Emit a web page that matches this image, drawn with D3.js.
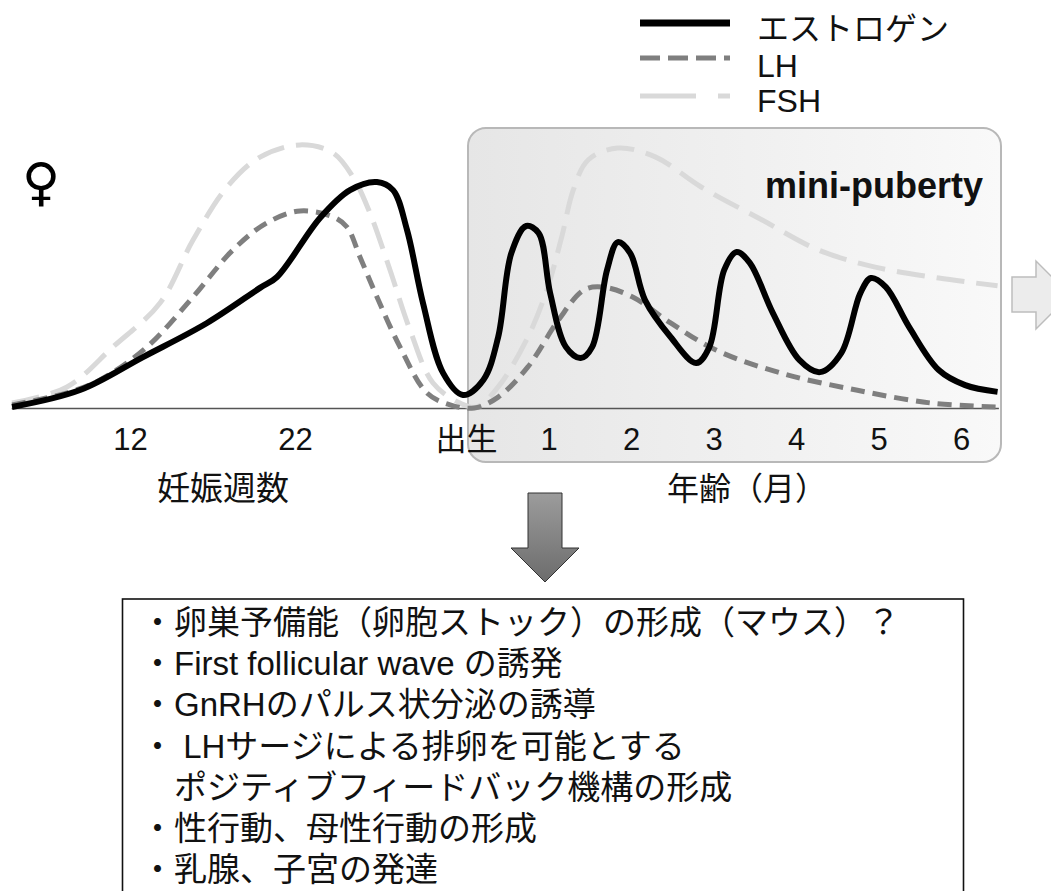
<!DOCTYPE html>
<html><head><meta charset="utf-8">
<script src="https://cdn.jsdelivr.net/npm/d3@7"></script>
<style>body{margin:0;background:#fff;} svg{display:block;}</style>
</head><body>
<svg id="c" width="1051" height="891"></svg>
<script>
// ---- data ----
const tickValues = [12, 22, 40, 41, 42, 43, 44, 45, 46]; // weeks (prenatal) / 40 + months (postnatal)
const tickLabels = ["12", "22", "出生", "1", "2", "3", "4", "5", "6"];
const axisTitles = ["妊娠週数", "年齢（月）"];
const seriesNames = ["エストロゲン", "LH", "FSH"];
const boxLabel = "mini-puberty";
const sexSymbol = "♀";

const estrogen = [[4.85,0.4],[8.97,6.9],[12.79,19.6],[16.67,32.7],[19.88,46.2],[20.91,50.4],[24.63,73.1],[27.79,83.8],[30.63,86.9],[32.32,83.8],[33.79,68.5],[35.47,40.4],[37.58,13.5],[39.68,5],[40.21,10.8],[40.39,27.3],[40.55,59.6],[40.73,70],[40.88,67.3],[41.02,44.2],[41.21,23.5],[41.39,19.2],[41.53,23.5],[41.71,53.1],[41.84,63.8],[41.99,59.6],[42.17,41.5],[42.48,27.3],[42.79,17.3],[42.95,23.5],[43.13,53.1],[43.28,60],[43.44,55.8],[43.72,36.5],[44.04,18.5],[44.29,13.8],[44.55,21.2],[44.78,44.2],[44.91,50],[45.09,46.5],[45.37,31.2],[45.73,14.6],[46.05,8.8],[46.44,6.2]];
const lh = [[4.85,1.2],[8.18,5.8],[10.18,10.8],[13.03,23.5],[15.82,42.7],[18.24,60.8],[20.3,71.2],[22.53,75.8],[26,73.5],[27.47,69.6],[28.84,58.1],[30.63,42.7],[33.05,23.5],[35.89,5.8],[38.32,1.2],[40.1,0],[40.39,4.2],[40.75,15.8],[41.12,33.8],[41.43,45.4],[41.66,46.5],[42.02,42.7],[42.48,32.7],[43.03,22.3],[43.81,13.5],[44.73,6.9],[45.64,1.9],[46.44,0.4]];
const fsh = [[4.85,1.9],[8.18,8.1],[10.97,23.5],[13.82,40.4],[15.82,64.6],[17.88,85],[19.88,96.5],[22.53,101.2],[26,98.1],[28.11,88.8],[29.89,75],[32,53.1],[34.11,30],[36.53,9.6],[39.37,1.9],[40.13,0.4],[40.39,8.1],[40.75,27.3],[40.98,45.4],[41.16,65.8],[41.3,83.8],[41.48,95.4],[41.84,100],[42.3,96.5],[42.85,85],[43.59,72.3],[44.27,60.8],[44.96,54.2],[45.73,50],[46.44,47]];
const bullets = [
  "・卵巣予備能（卵胞ストック）の形成（マウス）？",
  "・First follicular wave の誘発",
  "・GnRHのパルス状分泌の誘導",
  "・ LHサージによる排卵を可能とする",
  "　ポジティブフィードバック機構の形成",
  "・性行動、母性行動の形成",
  "・乳腺、子宮の発達"
];

// ---- setup ----
const FONT = "'Liberation Sans', Arial, 'Noto Sans CJK JP', sans-serif";
const svg = d3.select("#c");
const x = d3.scaleLinear().domain([4.8, 12, 22, 40, 46, 46.45]).range([11.2, 130, 295, 466, 961, 998.4]);
const y = d3.scaleLinear().domain([0, 100]).range([408, 148]);

const defs = svg.append("defs");
const g1 = defs.append("linearGradient").attr("id", "boxg").attr("x1", "0").attr("x2", "1").attr("y1", "0").attr("y2", "0");
g1.append("stop").attr("offset", "0").attr("stop-color", "#e6e6e6");
g1.append("stop").attr("offset", "1").attr("stop-color", "#f9f9f9");
const g2 = defs.append("linearGradient").attr("id", "arrg").attr("x1", "0").attr("x2", "0").attr("y1", "0").attr("y2", "1");
g2.append("stop").attr("offset", "0").attr("stop-color", "#9c9c9c");
g2.append("stop").attr("offset", "1").attr("stop-color", "#6c6c6c");

// mini-puberty box
svg.append("rect").attr("x", 468).attr("y", 128).attr("width", 533).attr("height", 334).attr("rx", 18)
  .attr("fill", "url(#boxg)").attr("stroke", "#b8b8b8").attr("stroke-width", 2);
svg.append("text").attr("x", 983).attr("y", 198).attr("text-anchor", "end")
  .attr("font-family", FONT).attr("font-weight", "bold").attr("font-size", 36).attr("fill", "#111").text(boxLabel);

// right arrow
svg.append("path").attr("d", "M1012,277H1036V261L1070,295L1036,329V312H1012Z")
  .attr("fill", "#ececec").attr("stroke", "#bdbdbd").attr("stroke-width", 1.5);

// axis
const axis = svg.append("g").attr("transform", "translate(0,408)")
  .call(d3.axisBottom(x).tickValues(tickValues).tickFormat((d, i) => tickLabels[i]).tickSize(0).tickSizeOuter(0).tickPadding(20));
axis.select(".domain").attr("stroke", "#555").attr("stroke-width", 1.6);
axis.selectAll("text").attr("font-family", FONT).attr("font-size", 31).attr("fill", "#111");

svg.append("text").attr("x", 157).attr("y", 500).attr("font-family", FONT).attr("font-size", 33).attr("fill", "#111").text(axisTitles[0]);
svg.append("text").attr("x", 667).attr("y", 500).attr("font-family", FONT).attr("font-size", 32).attr("fill", "#111").text(axisTitles[1]);

// curves
const line = d3.line().x(d => x(d[0])).y(d => y(d[1])).curve(d3.curveCatmullRom.alpha(0.5));
const styles = [
  {stroke: "#000", width: 6, dash: null, legW: 7, legDash: null},
  {stroke: "#7f7f7f", width: 5, dash: "14,8", legW: 5, legDash: "20,8"},
  {stroke: "#d9d9d9", width: 5, dash: "28,12", legW: 5, legDash: "56,22"}
];
const series = [fsh, lh, estrogen];
const sIdx = [2, 1, 0];
series.forEach((s, k) => {
  const st = styles[sIdx[k]];
  svg.append("path").datum(s).attr("d", line).attr("fill", "none")
    .attr("stroke", st.stroke).attr("stroke-width", st.width)
    .attr("stroke-dasharray", st.dash).attr("stroke-linejoin", "round").attr("stroke-linecap", "butt");
});

// legend
const legY = [23, 58, 96];
const legTextY = [40, 77, 112];
seriesNames.forEach((n, i) => {
  const st = styles[i];
  svg.append("line").attr("x1", 640).attr("x2", 730).attr("y1", legY[i]).attr("y2", legY[i])
    .attr("stroke", st.stroke).attr("stroke-width", st.legW).attr("stroke-dasharray", st.legDash);
  svg.append("text").attr("x", 757).attr("y", legTextY[i]).attr("font-family", FONT).attr("font-size", 32).attr("fill", "#111").text(n);
});

// female symbol
svg.append("text").attr("x", 41).attr("y", 200).attr("text-anchor", "middle")
  .attr("font-family", "'DejaVu Sans', sans-serif").attr("font-size", 52).attr("fill", "#000").text(sexSymbol);

// down arrow
svg.append("path").attr("d", "M528,493H562V548H579L545,582L511,548H528Z")
  .attr("fill", "url(#arrg)").attr("stroke", "#333").attr("stroke-width", 1);

// text box
svg.append("rect").attr("x", 122.5).attr("y", 599).attr("width", 841).attr("height", 330)
  .attr("fill", "#fff").attr("stroke", "#111").attr("stroke-width", 1.6);
svg.append("g").selectAll("text").data(bullets).join("text")
  .attr("x", 141).attr("y", (d, i) => 634 + i * 41.2)
  .attr("font-family", FONT).attr("font-size", 33).attr("fill", "#111")
  .attr("xml:space", "preserve").style("white-space", "pre").text(d => d);
</script>
</body></html>
